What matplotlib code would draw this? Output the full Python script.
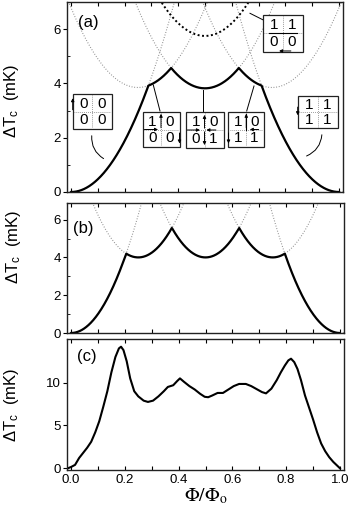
import numpy as np
import matplotlib
matplotlib.use('Agg')
import matplotlib.pyplot as plt
from matplotlib.patches import Rectangle, FancyArrowPatch
from matplotlib.lines import Line2D
from matplotlib.ticker import MultipleLocator

plt.rcParams['font.family'] = ['Liberation Sans', 'DejaVu Sans']
plt.rcParams['mathtext.fontset'] = 'stix'

# ---------------- data ----------------
# Panel (a): parabolic branches (centre, minimum)
a_centers = [0.0, 0.25, 0.5, 0.75, 1.0]
a_minima = [0.0, 3.85, 3.82, 3.85, 0.0]
a_curv = 47.0
a_dash_center = 0.5
a_dash_min = 5.75

# Panel (b)
b_centers = [0.0, 0.25, 0.5, 0.75, 1.0]
b_minima = [0.0, 4.0, 4.0, 4.0, 0.0]
b_curv = 100.0

# Panel (c): measured curve
c_phi = [-0.012, 0.0, 0.015, 0.03, 0.045, 0.06, 0.075, 0.09, 0.105, 0.12, 0.135,
         0.15, 0.165, 0.178, 0.186, 0.195, 0.207, 0.22, 0.235, 0.25, 0.27, 0.286,
         0.305, 0.325, 0.345, 0.36, 0.38, 0.395, 0.405, 0.42, 0.44, 0.46, 0.48,
         0.497, 0.51, 0.525, 0.545, 0.565, 0.585, 0.605, 0.625, 0.65, 0.67, 0.69,
         0.71, 0.725, 0.745, 0.765, 0.78, 0.795, 0.808, 0.818, 0.83, 0.842, 0.855,
         0.87, 0.885, 0.9, 0.915, 0.93, 0.945, 0.96, 0.975, 0.99, 1.0]
c_dtc = [0.0, 0.15, 0.4, 1.2, 1.8, 2.4, 3.1, 4.2, 5.5, 7.2, 9.0,
         11.2, 13.0, 14.0, 14.2, 13.8, 12.5, 10.5, 9.0, 8.4, 7.9, 7.75,
         7.9, 8.4, 9.0, 9.5, 9.7, 10.2, 10.5, 10.1, 9.6, 9.2, 8.7,
         8.35, 8.3, 8.5, 8.8, 8.8, 9.2, 9.6, 9.85, 9.85, 9.6, 9.25,
         8.9, 8.75, 9.3, 10.3, 11.2, 12.0, 12.6, 12.8, 12.4, 11.6, 10.3,
         8.5, 7.1, 5.7, 4.2, 2.9, 2.0, 1.3, 0.75, 0.3, 0.0]

x_ticks = [0.0, 0.2, 0.4, 0.6, 0.8, 1.0]
x_ticklabels = ['0.0', '0.2', '0.4', '0.6', '0.8', '1.0']
ab_yticks = [0, 2, 4, 6]
c_yticks = [0, 5, 10]

# ---------------- figure ----------------
W, H = 357, 524
fig = plt.figure(figsize=(W / 100, H / 100), dpi=100)


def fx(px):
    return px / W


def fy(py):
    return 1 - py / H


def add_ax(left, top, right, bottom):
    return fig.add_axes([fx(left), fy(bottom), fx(right) - fx(left), (bottom - top) / H])


axA = add_ax(67, 2, 343, 192)
axB = add_ax(67, 203, 344, 333)
axC = add_ax(67, 339, 344, 470)

xx = np.linspace(-0.02, 1.02, 1200)
dot_kw = dict(color='#8a8a8a', lw=0.8, linestyle=(0, (0.8, 1.6)))


def branch(c, m, k):
    return m + k * (xx - c) ** 2


# panel (a)
branches_a = [branch(c, m, a_curv) for c, m in zip(a_centers, a_minima)]
for yb in branches_a:
    axA.plot(xx, yb, **dot_kw)
axA.plot(xx, branch(a_dash_center, a_dash_min, a_curv), color='black', lw=1.4,
         linestyle=(0, (1.0, 1.3)))
envA = np.min(branches_a, axis=0)
m = (xx >= 0) & (xx <= 1)
axA.plot(xx[m], envA[m], color='black', lw=1.6)
axA.set_ylim(0, 7.0)

# panel (b)
branches_b = [branch(c, mm, b_curv) for c, mm in zip(b_centers, b_minima)]
for yb in branches_b:
    axB.plot(xx, yb, **dot_kw)
envB = np.min(branches_b, axis=0)
axB.plot(xx[m], envB[m], color='black', lw=1.6)
axB.set_ylim(0, 6.88)

# panel (c)
axC.plot(c_phi, c_dtc, color='black', lw=1.5)
axC.set_ylim(-0.2, 15.1)

for ax in (axA, axB, axC):
    ax.set_xlim(-0.015, 1.015)
    ax.set_xticks(x_ticks)
    ax.xaxis.set_minor_locator(MultipleLocator(0.1))
    ax.tick_params(axis='x', which='both', direction='in', top=True, length=3, width=0.8)
    ax.tick_params(axis='y', which='major', direction='out', length=3, width=0.8,
                   labelsize=9.5, pad=1.5)
    ax.tick_params(axis='y', which='minor', direction='in', length=2, width=0.6)
    for s in ax.spines.values():
        s.set_linewidth(1.0)
        s.set_color('#222222')

for ax in (axA, axB):
    ax.set_yticks(ab_yticks)
    ax.yaxis.set_minor_locator(MultipleLocator(1))
    ax.set_xticklabels([])
axC.set_yticks(c_yticks)
axC.set_xticklabels(x_ticklabels, fontsize=9.5)
axC.tick_params(axis='x', which='major', pad=3)

ylab = 'ΔT$_\\mathregular{c}$  (mK)'
axA.set_ylabel(ylab, fontsize=12)
axA.yaxis.set_label_coords(-0.165, 0.48)
axB.set_ylabel(ylab, fontsize=12)
axB.yaxis.set_label_coords(-0.16, 0.66)
axC.set_ylabel(ylab, fontsize=12)
axC.yaxis.set_label_coords(-0.165, 0.5)
axC.set_xlabel(r'$\Phi/\Phi_{\rm o}$', fontsize=14, labelpad=0)

fig.text(fx(88), fy(22), '(a)', fontsize=12, ha='center', va='center')
fig.text(fx(83), fy(228), '(b)', fontsize=12, ha='center', va='center')
fig.text(fx(87), fy(357), '(c)', fontsize=12, ha='center', va='center')


# ---------------- state boxes ----------------
def fline(p0, p1, **kw):
    fig.add_artist(Line2D([fx(p0[0]), fx(p1[0])], [fy(p0[1]), fy(p1[1])],
                          transform=fig.transFigure, **kw))


def farrow(p0, p1):
    fig.add_artist(FancyArrowPatch((fx(p0[0]), fy(p0[1])), (fx(p1[0]), fy(p1[1])),
                                   transform=fig.transFigure, arrowstyle='-|>',
                                   mutation_scale=4.5, lw=0.7, color='black',
                                   shrinkA=0, shrinkB=0, zorder=6))


def box(x0, y0, x1, y1, digits, arrows=(), solid=()):
    fig.add_artist(Rectangle((fx(x0), fy(y1)), fx(x1) - fx(x0), (y1 - y0) / H,
                             transform=fig.transFigure, facecolor='white',
                             edgecolor='#222222', lw=0.9, zorder=3))
    xm = (x0 + x1) / 2
    ym = (y0 + y1) / 2
    fline((xm, y0 + 1), (xm, y1 - 1), color='#8a8a8a', lw=0.7,
          linestyle=(0, (0.8, 1.2)), zorder=4)
    fline((x0 + 1, ym), (x1 - 1, ym), color='#8a8a8a', lw=0.7,
          linestyle=(0, (0.8, 1.2)), zorder=4)
    w = x1 - x0
    h = y1 - y0
    pos = [(x0 + 0.27 * w, y0 + 0.28 * h), (x0 + 0.73 * w, y0 + 0.28 * h),
           (x0 + 0.27 * w, y0 + 0.74 * h), (x0 + 0.73 * w, y0 + 0.74 * h)]
    for (px, py), d in zip(pos, digits):
        fig.text(fx(px), fy(py), d, fontsize=11, ha='center', va='center', zorder=5)
    for (u0, v0, u1, v1) in solid:
        fline((x0 + u0 * w, y0 + v0 * h), (x0 + u1 * w, y0 + v1 * h),
              color='black', lw=0.8, zorder=5)
    for (u0, v0, u1, v1) in arrows:
        farrow((x0 + u0 * w, y0 + v0 * h), (x0 + u1 * w, y0 + v1 * h))


box(72.7, 94, 111.7, 129, ['0', '0', '0', '0'], arrows=[(0.0, 0.45, 0.0, 0.12)])
box(142.5, 112, 179.5, 147, ['1', '0', '0', '0'],
    arrows=[(0.5, 0.45, 0.5, 0.05), (0.05, 0.5, 0.42, 0.5), (1.0, 0.6, 1.0, 0.9)])
box(185.5, 112, 223.5, 148, ['1', '0', '0', '1'],
    arrows=[(0.5, 0.45, 0.5, 0.08), (0.05, 0.5, 0.38, 0.5), (0.8, 0.5, 0.55, 0.5),
            (0.5, 0.55, 0.5, 0.92)])
box(228.5, 112, 264, 147, ['1', '0', '1', '1'],
    arrows=[(0.5, 0.45, 0.5, 0.05), (0.85, 0.5, 0.6, 0.5), (0.0, 0.6, 0.0, 0.9)],
    solid=[(0.5, 0.05, 0.5, 0.5)])
box(297.7, 95.7, 338.3, 128.3, ['1', '1', '1', '1'], arrows=[(0.0, 0.35, 0.0, 0.6)])
box(263.3, 15, 302.7, 51.7, ['1', '1', '0', '0'],
    arrows=[(0.7, 0.98, 0.4, 0.98)], solid=[(0.15, 0.5, 0.85, 0.5)])

# leader lines
leader_kw = dict(color='black', lw=0.7)
fig.add_artist(FancyArrowPatch((fx(92), fy(133)), (fx(106), fy(160)),
                               transform=fig.transFigure, arrowstyle='-',
                               connectionstyle='arc3,rad=0.35', **leader_kw))
fig.add_artist(FancyArrowPatch((fx(322), fy(132)), (fx(304), fy(157)),
                               transform=fig.transFigure, arrowstyle='-',
                               connectionstyle='arc3,rad=-0.35', **leader_kw))
fline((153.3, 85), (160, 111), **leader_kw)
fline((203.3, 89.5), (203.3, 111), **leader_kw)
fline((254, 86), (246.7, 111), **leader_kw)
fline((250, 13.3), (263.3, 20), **leader_kw)

fig.savefig('out.png', dpi=100)
